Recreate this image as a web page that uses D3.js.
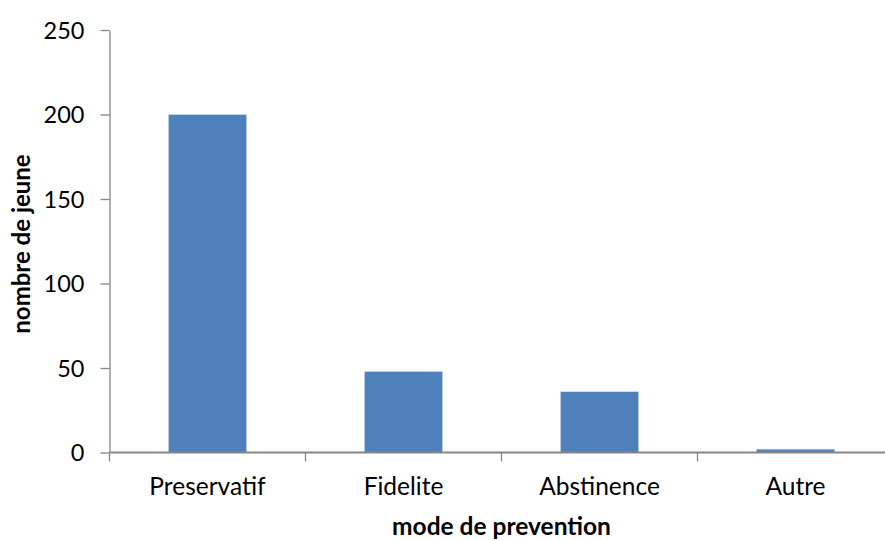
<!DOCTYPE html>
<html>
<head>
<meta charset="utf-8">
<script src="https://cdn.jsdelivr.net/npm/d3@7"></script>
<style>
  body { margin: 0; background: #fff; }
  svg text { font-family: Lato, "Open Sans", sans-serif; fill: #000; }
</style>
</head>
<body>
<svg id="chart" width="885" height="540"></svg>
<script>
// Data: young people by prevention method
const categories = ["Preservatif", "Fidelite", "Abstinence", "Autre"];
const values = [200, 48, 36, 2];
const yTicks = [0, 50, 100, 150, 200, 250];
const xTitle = "mode de prevention";
const yTitle = "nombre de jeune";

const svg = d3.select("#chart");
const plotLeft = 109.5, plotTop = 30, plotBottom = 452.5, band = 196;
const plotRight = plotLeft + band * categories.length;

const x = d3.scaleBand()
  .domain(categories)
  .range([plotLeft, plotRight])
  .paddingInner(0.6)
  .paddingOuter(0.3);

const y = d3.scaleLinear().domain([0, 250]).range([plotBottom, plotTop]);

const axisColor = "#868686";

// Bars
svg.append("g").selectAll("rect")
  .data(categories)
  .enter().append("rect")
  .attr("x", d => x(d))
  .attr("width", x.bandwidth())
  .attr("y", (d, i) => y(values[i]))
  .attr("height", (d, i) => plotBottom - y(values[i]))
  .attr("fill", "#4F81BD")
  .attr("stroke", "#dbe4f0")
  .attr("stroke-width", 0.6);

// Y axis
const yAxis = svg.append("g")
  .attr("transform", `translate(${plotLeft},0)`)
  .call(d3.axisLeft(y).tickValues(yTicks).tickSize(9).tickSizeOuter(0).tickPadding(16));
yAxis.selectAll("line, path").attr("stroke", axisColor).attr("stroke-width", 1.3);
yAxis.selectAll("text")
  .attr("font-size", 23.5)
  .attr("font-family", "Lato, 'Open Sans', sans-serif")
  .attr("dy", "0.36em");

// X axis with ticks at band boundaries
const xAxisG = svg.append("g").attr("transform", `translate(0,${plotBottom})`);
xAxisG.append("line")
  .attr("x1", plotLeft).attr("x2", 885)
  .attr("stroke", axisColor).attr("stroke-width", 2.2);
const bounds = d3.range(categories.length + 1).map(i => plotLeft + i * band);
xAxisG.selectAll(".tk").data(bounds).enter().append("line")
  .attr("x1", d => d).attr("x2", d => d)
  .attr("y1", 0).attr("y2", 9)
  .attr("stroke", axisColor).attr("stroke-width", 1.3);
xAxisG.selectAll(".lbl").data(categories).enter().append("text")
  .attr("x", d => x(d) + x.bandwidth() / 2)
  .attr("y", 42.5)
  .attr("text-anchor", "middle")
  .attr("font-size", 24.5)
  .text(d => d);

// Axis titles
svg.append("text")
  .attr("x", (plotLeft + plotRight) / 2).attr("y", 535)
  .attr("text-anchor", "middle")
  .attr("font-size", 24.5).attr("font-weight", "bold")
  .text(xTitle);

svg.append("text")
  .attr("transform", "translate(30,244) rotate(-90)")
  .attr("text-anchor", "middle")
  .attr("font-size", 24).attr("font-weight", "bold")
  .text(yTitle);
</script>
</body>
</html>
